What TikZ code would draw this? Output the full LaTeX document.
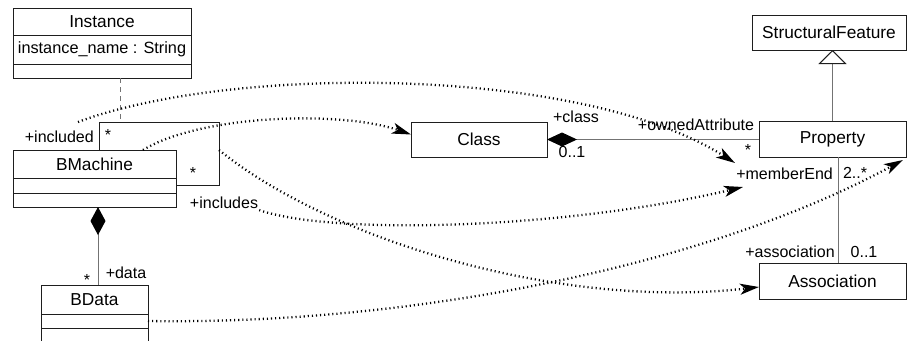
\documentclass[tikz,border=0pt]{standalone}
\usepackage{fontspec}
\setmainfont{Liberation Sans}
\usetikzlibrary{arrows.meta, positioning}
\definecolor{umlborder}{RGB}{30, 30, 30}
\definecolor{umlline}{RGB}{115, 115, 115}

\begin{document}
\begin{tikzpicture}[x=1pt, y=-1pt,
    classbox/.style={draw=umlborder, fill=white, line width=0.9pt, outer sep=0pt, inner sep=2pt, font=\fontsize{17.3}{20}\selectfont},
    attrbox/.style={classbox, font=\fontsize{16.3}{19}\selectfont},
    lbl/.style={inner sep=1pt, font=\fontsize{16}{18}\selectfont},
    link/.style={draw=umlline, line width=1pt},
    mapping/.style={line width=2.3pt, dash pattern=on 1.1pt off 3pt, -{Stealth[length=19pt, width=11pt, inset=5pt, fill=black]}}]
    \useasboundingbox (0,0) rectangle (907,340);

    % classes on the left
    \node[classbox, minimum width=178pt, minimum height=27pt] (inst) at (102,21.5) {Instance};
    \node[attrbox, minimum width=178pt, minimum height=29pt, below=0pt of inst] (inst-attr) {instance\_name : String};
    \node[classbox, minimum width=178pt, minimum height=14pt, below=0pt of inst-attr] (inst-ops) {};

    \node[classbox, minimum width=163pt, minimum height=28pt] (bm) at (94.5,164) {BMachine};
    \node[classbox, minimum width=163pt, minimum height=15pt, below=0pt of bm] (bm-attr) {};
    \node[classbox, minimum width=163pt, minimum height=14pt, below=0pt of bm-attr] (bm-ops) {};

    \node[classbox, minimum width=107pt, minimum height=29pt] (bd) at (94.5,299.5) {BData};
    \node[classbox, minimum width=107pt, minimum height=14pt, below=0pt of bd] (bd-attr) {};
    \node[classbox, minimum width=107pt, minimum height=14pt, below=0pt of bd-attr] (bd-ops) {};

    % classes on the right
    \node[classbox, minimum width=136pt, minimum height=35pt] (cls) at (479,139.5) {Class};
    \node[classbox, minimum width=154pt, minimum height=35pt] (sf) at (829,32.5) {StructuralFeature};
    \node[classbox, minimum width=147pt, minimum height=36pt] (prop) at (832.5,139) {Property};
    \node[classbox, minimum width=147pt, minimum height=36pt] (assoc) at (832.5,281) {Association};

    % self association of BMachine
    \coordinate (loop-nw) at (99,122);
    \coordinate (loop-ne) at (219,122);
    \coordinate (loop-se) at (219,185);
    \coordinate (loop-mid) at (120,122);
    \draw[umlborder, line width=0.9pt] (bm.north -| loop-nw) -- (loop-nw) -- (loop-ne) -- (loop-se) -- (loop-se -| bm.east);
    \draw[umlline, line width=1pt, dash pattern=on 5pt off 4pt] (inst-ops.south -| loop-mid) -- (loop-mid);

    % composition, generalization, association
    \draw[link, {Diamond[length=28pt, width=15pt, color=black]}-] ([xshift=3.5pt]bm-ops.south) -- ([xshift=3.5pt]bd.north);
    \draw[link, {Diamond[length=30pt, width=14pt, color=black]}-] (cls.east) -- (cls.east -| prop.west);
    \draw[link, -{Triangle[open, length=14pt, width=28pt, fill=white, color=umlborder]}] (prop.north) -- (prop.north |- sf.south);
    \draw[link] ([xshift=5.5pt]prop.south) -- ([xshift=5.5pt]assoc.north);

    % role names and multiplicities
    \node[lbl, anchor=east] (included) at (95,137) {+included};
    \node[lbl] (incl-mult) at (108,135) {*};
    \node[lbl] (incls-mult) at (193,173) {*};
    \node[lbl] (includes) at (224,203) {+includes};
    \node[lbl] (data-mult) at (87,280) {*};
    \node[lbl] (data) at (126,273) {+data};
    \node[lbl] (class-role) at (576,117) {+class};
    \node[lbl] (class-mult) at (572,152) {0..1};
    \node[lbl] (owned) at (696,125) {+ownedAttribute};
    \node[lbl] (owned-mult) at (748,150) {*};
    \node[lbl, anchor=east] (member) at (834,174) {+memberEnd};
    \node[lbl] (member-mult) at (855,173) {2..*};
    \node[lbl] (assoc-role) at (790,252) {+association};
    \node[lbl] (assoc-mult) at (864,252) {0..1};

    % mappings
    \coordinate (incl-start) at (78,122);
    \coordinate (incls-start) at (219,150);
    \coordinate (member-top) at (735,163);
    \coordinate (member-low) at (743,187);
    \coordinate (member-right) at (903,160);
    \draw[mapping] (incl-start) .. controls (230,65) and (580,65) .. (member-top);
    \draw[mapping] ([xshift=48.5pt]bm.north) .. controls (200,115) and (340,110) .. ([yshift=5pt]cls.west);
    \draw[mapping] (incls-start) .. controls (330,240) and (560,310) .. ([yshift=-6pt]assoc.west);
    \draw[mapping] (includes.south east) .. controls (330,235) and (560,230) .. (member-low);
    \draw[mapping] (bd-attr.east) .. controls (400,325) and (700,270) .. (member-right);
\end{tikzpicture}
\end{document}
